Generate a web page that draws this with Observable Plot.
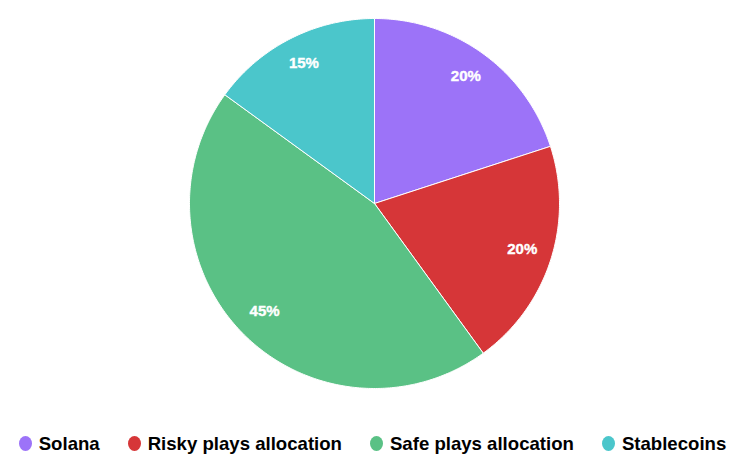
<!DOCTYPE html>
<html><head><meta charset="utf-8">
<script src="https://cdn.jsdelivr.net/npm/d3@7"></script>
<script src="https://cdn.jsdelivr.net/npm/@observablehq/plot@0.6"></script>
<style>
body{margin:0;background:#fff;font-family:"Liberation Sans",Arial,sans-serif}
#chart svg{display:block}
#legend{display:flex;justify-content:center;align-items:center;height:44px;gap:28px;font-weight:bold;font-size:18.6px;color:#000;padding-top:3px;padding-left:2px;box-sizing:border-box}
.item{display:flex;align-items:center;gap:7px}
.sw{width:13px;height:15px;border-radius:50%;display:inline-block}
</style></head><body><div id="chart"></div><div id="legend"></div>
<script>
const categories = ["Solana","Risky plays allocation","Safe plays allocation","Stablecoins"];
const values = [20,20,45,15];
const colors = ["#9C73F8","#D63638","#5AC185","#4BC6CB"];
const labels = ["20%","20%","45%","15%"];

const pie = d3.pie().sort(null).value(d=>d.value)(categories.map((c,i)=>({category:c,value:values[i],label:labels[i]})));
const pts=[];
const lbl=[];
pie.forEach(s=>{
  const k=s.data.category;
  pts.push({k,x:0,y:0});
  const n=Math.max(2,Math.ceil((s.endAngle-s.startAngle)*80));
  for(let j=0;j<=n;j++){const a=s.startAngle+(s.endAngle-s.startAngle)*j/n; pts.push({k,x:Math.sin(a),y:Math.cos(a)});}
  pts.push({k,x:0,y:0});
  const m=(s.startAngle+s.endAngle)/2;
  lbl.push({x:0.84*Math.sin(m),y:0.84*Math.cos(m),text:s.data.label});
});

const chart = Plot.plot({
  width:743,height:420,
  marginLeft:189,marginRight:184,marginTop:18,marginBottom:32,
  style:{fontFamily:'"Liberation Sans",Arial,sans-serif',background:"#fff"},
  x:{domain:[-1,1],axis:null},
  y:{domain:[-1,1],axis:null},
  color:{domain:categories,range:colors},
  marks:[
    Plot.line(pts,{x:"x",y:"y",z:"k",fill:"k",stroke:"white",strokeWidth:1,strokeLinejoin:"round"}),
    Plot.text(lbl,{x:"x",y:"y",text:"text",fill:"white",fontSize:15,fontWeight:"bold",dy:-2,stroke:"white",strokeWidth:0.4})
  ]
});
document.getElementById("chart").appendChild(chart);
const lg=document.getElementById("legend");
categories.forEach((c,i)=>{
  const it=document.createElement("div");it.className="item";
  const sw=document.createElement("span");sw.className="sw";sw.style.background=colors[i];
  const t=document.createElement("span");t.textContent=c;
  it.appendChild(sw);it.appendChild(t);lg.appendChild(it);
});
</script></body></html>
